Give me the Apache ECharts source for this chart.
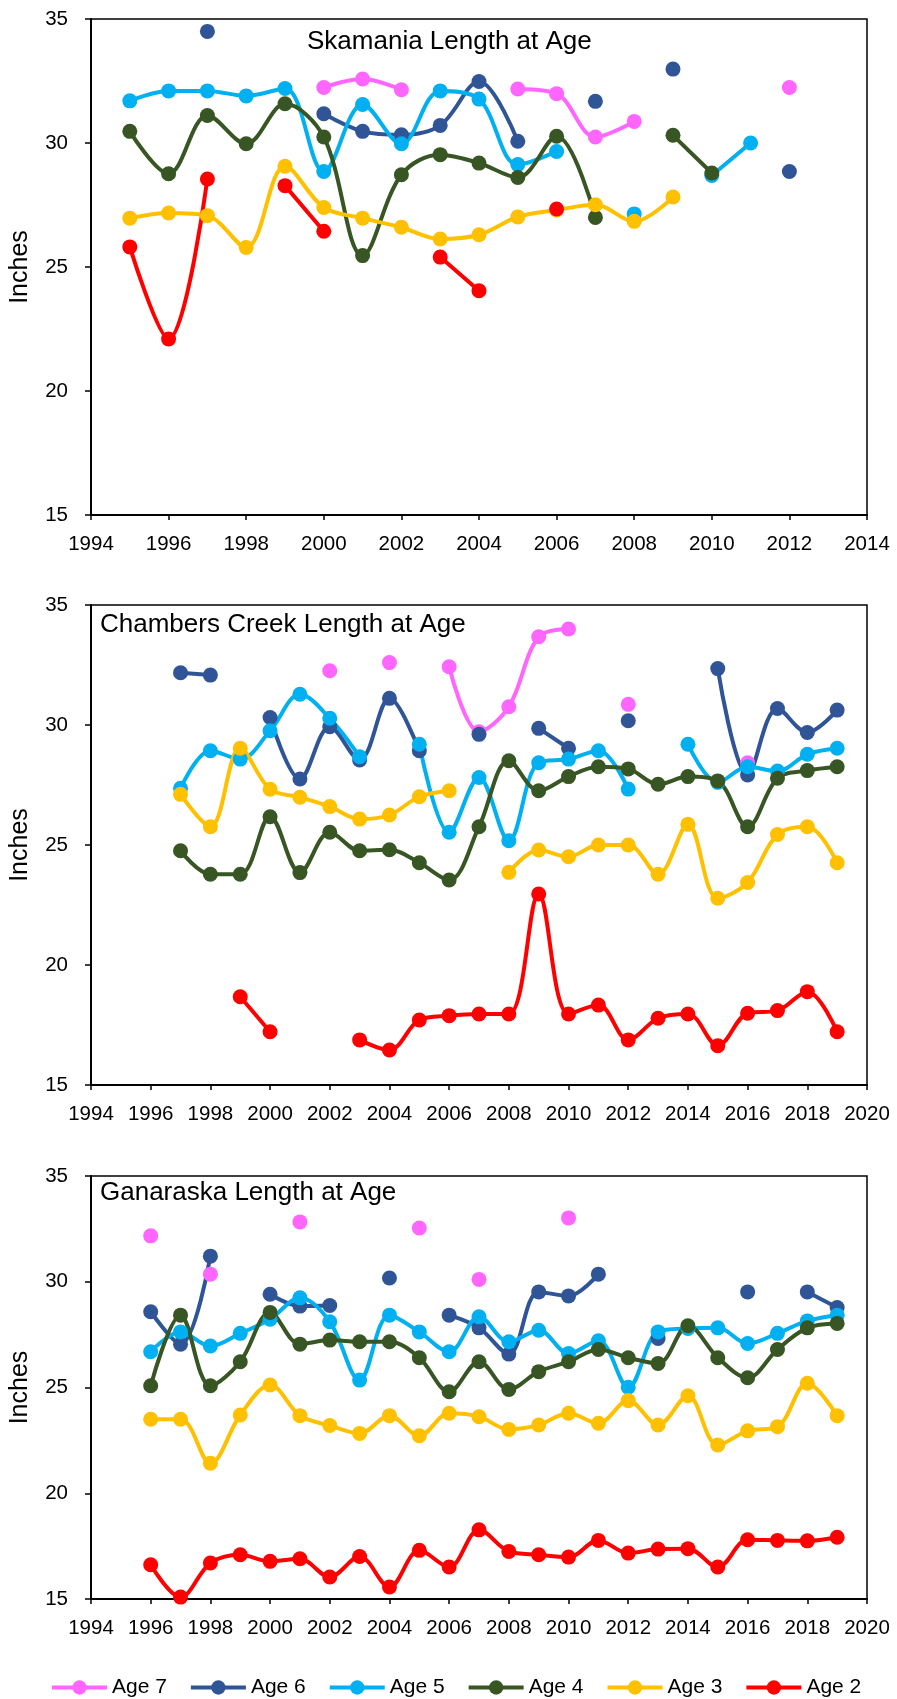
<!DOCTYPE html>
<html><head><meta charset="utf-8">
<script src="https://cdn.jsdelivr.net/npm/echarts@6/dist/echarts.min.js"></script>
<style>html,body{margin:0;padding:0;background:#fff}#c{width:897px;height:1699px}</style>
</head><body><div id="c"></div>
<script>
// ---------- DATA ----------
const ageNames = ['Age 7', 'Age 6', 'Age 5', 'Age 4', 'Age 3', 'Age 2'];
const panelTitles = ['Skamania Length at Age', 'Chambers Creek Length at Age', 'Ganaraska Length at Age'];
const yTicks = [15, 20, 25, 30, 35];

// Skamania
const skYears = [1995,1996,1997,1998,1999,2000,2001,2002,2003,2004,2005,2006,2007,2008,2009,2010,2011,2012];
const skAge7 = [null,null,null,null,null,32.24,32.58,32.15,null,null,32.18,31.99,30.24,30.87,null,null,null,32.24];
const skAge6 = [null,null,34.5,null,null,31.18,30.47,30.33,30.71,32.48,30.07,null,31.68,null,32.98,null,null,28.85];
const skAge5 = [31.7,32.1,32.1,31.9,32.2,28.85,31.55,29.97,32.1,31.77,29.13,29.66,null,27.14,null,28.69,30.0,null];
const skAge4 = [30.47,28.76,31.11,29.97,31.58,30.24,25.46,28.72,29.53,29.19,28.61,30.27,27.0,null,30.31,28.79,null,null];
const skAge3 = [26.97,27.18,27.07,25.79,29.06,27.4,26.97,26.6,26.13,26.3,27.02,27.3,27.51,26.84,27.82,null,null,null];
const skAge2 = [25.81,22.1,28.55,null,28.28,26.44,null,null,25.4,24.04,null,27.34,null,null,null,null,null,null];

// Chambers Creek
const ccYears = [1997,1998,1999,2000,2001,2002,2003,2004,2005,2006,2007,2008,2009,2010,2011,2012,2013,2014,2015,2016,2017,2018,2019];
const ccAge7 = [null,null,null,null,null,32.26,null,32.6,null,32.43,29.72,30.76,33.68,34.0,null,30.86,null,null,null,28.43,null,null,null];
const ccAge6 = [32.18,32.08,null,30.31,27.75,29.93,28.54,31.11,28.93,null,29.61,null,29.86,29.03,null,30.18,null,null,32.35,27.92,30.69,29.69,30.62];
const ccAge5 = [27.36,28.93,28.58,29.76,31.28,30.28,28.68,null,29.2,25.53,27.81,25.18,28.43,28.58,28.93,27.33,null,29.2,27.61,28.26,28.08,28.78,29.03];
const ccAge4 = [24.76,23.78,23.78,26.18,23.85,25.53,24.76,24.8,24.26,23.54,25.76,28.51,27.26,27.85,28.26,28.17,27.53,27.85,27.67,25.76,27.78,28.1,28.26];
const ccAge3 = [27.11,25.76,29.03,27.32,26.99,26.6,26.08,26.25,27.01,27.26,null,23.86,24.79,24.51,25.0,25.0,23.78,25.86,22.78,23.44,25.44,25.76,24.26];
const ccAge2 = [null,null,18.68,17.22,null,null,16.88,16.46,17.71,17.89,17.96,17.96,22.96,17.96,18.33,16.88,17.78,17.96,16.64,17.99,18.1,18.89,17.22];

// Ganaraska
const gaYears = [1996,1997,1998,1999,2000,2001,2002,2003,2004,2005,2006,2007,2008,2009,2010,2011,2012,2013,2014,2015,2016,2017,2018,2019];
const gaAge7 = [32.17,null,30.36,null,null,32.83,null,null,null,32.54,null,30.11,null,null,33.02,null,null,null,null,null,null,null,null,null];
const gaAge6 = [28.58,27.05,31.21,null,29.41,28.85,28.88,null,30.18,null,28.42,27.82,26.58,29.52,29.33,30.36,null,27.32,null,null,29.52,null,29.52,28.78];
const gaAge5 = [26.69,27.63,26.96,27.56,28.23,29.24,28.11,25.35,28.42,27.63,26.69,28.34,27.16,27.71,26.61,27.21,25.01,27.63,27.79,27.82,27.08,27.56,28.15,28.42];
const gaAge4 = [25.08,28.42,25.08,26.22,28.55,27.05,27.24,27.16,27.16,26.41,24.8,26.22,24.91,25.75,26.22,26.8,26.41,26.14,27.92,26.41,25.46,26.8,27.82,28.03];
const gaAge3 = [23.5,23.5,21.42,23.7,25.12,23.67,23.2,22.83,23.67,22.72,23.78,23.62,23.02,23.23,23.78,23.31,24.38,23.23,24.61,22.28,22.95,23.15,25.2,23.67];
const gaAge2 = [16.62,15.09,16.7,17.09,16.78,16.9,16.04,17.01,15.57,17.3,16.51,18.27,17.25,17.09,16.98,17.77,17.17,17.36,17.38,16.51,17.8,17.77,17.75,17.92];

const xRanges = [[1994, 2014], [1994, 2020], [1994, 2020]];

// ---------- STYLE ----------
const colors = ['#FF66FF', '#2F5597', '#00B0F0', '#375623', '#FFC000', '#FF0000'];
const FONT = 'Liberation Sans';
const grids = [
  {left: 89, top: 19, width: 778, height: 496},
  {left: 89, top: 605, width: 778, height: 480},
  {left: 89, top: 1176, width: 778, height: 423}
];
const titlePos = [{left: 307, top: 29}, {left: 100, top: 612}, {left: 100, top: 1180}];

const panels = [
  {years: skYears, ages: [skAge7, skAge6, skAge5, skAge4, skAge3, skAge2]},
  {years: ccYears, ages: [ccAge7, ccAge6, ccAge5, ccAge4, ccAge3, ccAge2]},
  {years: gaYears, ages: [gaAge7, gaAge6, gaAge5, gaAge4, gaAge3, gaAge2]}
];

const series = [];
panels.forEach((p, pi) => {
  p.ages.forEach((vals, ai) => {
    series.push({
      name: ageNames[ai],
      type: 'line',
      xAxisIndex: pi, yAxisIndex: pi,
      data: p.years.map((y, i) => [y, vals[i] == null ? '-' : vals[i]]),
      smooth: 0.35,
      connectNulls: false,
      symbol: 'circle',
      symbolSize: 15,
      showSymbol: true,
      showAllSymbol: true,
      clip: false,
      color: colors[ai],
      lineStyle: {width: 4, color: colors[ai]},
      itemStyle: {color: colors[ai]},
      emphasis: {disabled: true},
      animation: false
    });
  });
});

const option = {
  animation: false,
  backgroundColor: '#fff',
  textStyle: {fontFamily: FONT},
  title: panelTitles.map((t, i) => ({
    text: t, left: titlePos[i].left, top: titlePos[i].top, padding: 0,
    textStyle: {fontFamily: FONT, fontSize: 26, fontWeight: 'normal', color: '#000'}
  })),
  grid: grids.map(g => Object.assign({show: true, borderColor: '#000', borderWidth: 1.5, backgroundColor: 'transparent'}, g)),
  xAxis: xRanges.map((r, i) => ({
    type: 'value', gridIndex: i, min: r[0], max: r[1], interval: 2,
    axisLine: {show: true, onZero: false, lineStyle: {color: '#000', width: 2}},
    axisTick: {show: true, length: 5, lineStyle: {color: '#000', width: 1.5}},
    axisLabel: {fontFamily: FONT, fontSize: 20.5, color: '#000', margin: 19, formatter: v => String(v)},
    splitLine: {show: false}
  })),
  yAxis: grids.map((g, i) => ({
    type: 'value', gridIndex: i, min: yTicks[0], max: yTicks[yTicks.length - 1], interval: 5,
    name: 'Inches', nameLocation: 'middle', nameGap: 58, nameRotate: 90,
    nameTextStyle: {fontFamily: FONT, fontSize: 25, color: '#000'},
    axisLine: {show: true, lineStyle: {color: '#000', width: 2}},
    axisTick: {show: true, length: 6, lineStyle: {color: '#000', width: 1.5}},
    axisLabel: {fontFamily: FONT, fontSize: 20.5, color: '#000', margin: 23},
    splitLine: {show: false}
  })),
  legend: {
    data: ageNames,
    left: 45, top: 1672,
    itemWidth: 55, itemHeight: 18, itemGap: 22,
    lineStyle: {width: 4},
    textStyle: {fontFamily: FONT, fontSize: 21, color: '#000'},
    selectedMode: false
  },
  series: series
};

const chart = echarts.init(document.getElementById('c'), null, {renderer: 'canvas'});
chart.setOption(option);
</script>
</body></html>
